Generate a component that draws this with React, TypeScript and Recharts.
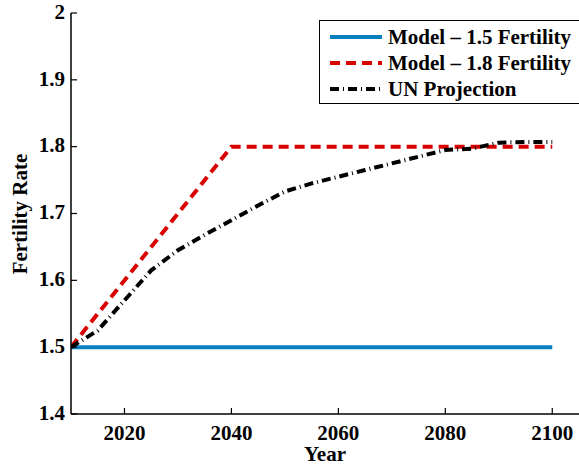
import { LineChart, Line, XAxis, YAxis, Legend } from 'recharts'

const modelYears = [2010, 2040, 2100]
const model15 = [1.5, 1.5, 1.5]
const model18 = [1.5, 1.8, 1.8]

const unYears = [2010, 2015, 2020, 2025, 2030, 2035, 2040, 2045, 2050, 2055, 2060, 2065, 2070, 2075, 2080, 2085, 2090, 2095, 2100]
const unValues = [1.5, 1.525, 1.57, 1.615, 1.645, 1.668, 1.69, 1.712, 1.733, 1.745, 1.755, 1.765, 1.775, 1.785, 1.795, 1.797, 1.806, 1.807, 1.807]

const xTicks = [2020, 2040, 2060, 2080, 2100]
const yTicks = [1.4, 1.5, 1.6, 1.7, 1.8, 1.9, 2]

const FONT = '"Liberation Serif", "Times New Roman", serif'
const BLUE = '#0a80bf'
const RED = '#d90000'

const model15Data = modelYears.map((year, i) => ({ year, value: model15[i] }))
const model18Data = modelYears.map((year, i) => ({ year, value: model18[i] }))
const unData = unYears.map((year, i) => ({ year, value: unValues[i] }))

const legendItems = [
  { label: 'Model \u2013 1.5 Fertility', color: BLUE, dash: undefined },
  { label: 'Model \u2013 1.8 Fertility', color: RED, dash: '10 6' },
  { label: 'UN Projection', color: '#000', dash: '9 4 1 4' },
]

function BottomTick({ x = 0, y = 0, payload }: any) {
  return (
    <g>
      <line x1={x} y1={y} x2={x} y2={y - 6} stroke="#000" strokeWidth={1.2} />
      <text x={x} y={y + 21} textAnchor="middle" dominantBaseline="middle"
        fontFamily={FONT} fontWeight="bold" fontSize={21} fill="#000">
        {payload.value}
      </text>
    </g>
  )
}

function TopTick({ x = 0, y = 0 }: any) {
  return <line x1={x} y1={y} x2={x} y2={y + 6} stroke="#000" strokeWidth={1.2} />
}

function LeftTick({ x = 0, y = 0, payload }: any) {
  return (
    <g>
      <line x1={x} y1={y} x2={x + 6} y2={y} stroke="#000" strokeWidth={1.2} />
      <text x={x - 6} y={y + 1} textAnchor="end" dominantBaseline="middle"
        fontFamily={FONT} fontWeight="bold" fontSize={21} fill="#000">
        {payload.value}
      </text>
    </g>
  )
}

function RightTick({ x = 0, y = 0 }: any) {
  return <line x1={x} y1={y} x2={x - 6} y2={y} stroke="#000" strokeWidth={1.2} />
}

function LegendBox() {
  return (
    <div style={{
      width: 280, height: 84, border: '1.5px solid #000', background: '#fff',
      fontFamily: FONT, fontWeight: 'bold', fontSize: 21, boxSizing: 'border-box',
    }}>
      {legendItems.map((it, i) => (
        <div key={i} style={{ display: 'flex', alignItems: 'center', height: 26, marginTop: i === 0 ? 3 : 0, whiteSpace: 'nowrap' }}>
          <svg width={68} height={10}>
            <line x1={10} y1={5} x2={62} y2={5} stroke={it.color} strokeWidth={4} strokeDasharray={it.dash} />
          </svg>
          <span>{it.label}</span>
        </div>
      ))}
    </div>
  )
}

export default function App() {
  return (
    <div style={{ position: 'absolute', left: 0, top: 0, width: 579, height: 465, overflow: 'hidden', background: '#fff' }}>
      <LineChart width={579} height={465} margin={{ top: 13, right: 0, bottom: 0, left: 0 }}>
        <XAxis
          dataKey="year" type="number" domain={[2010, 2105]} ticks={xTicks}
          allowDataOverflow height={51} tickSize={0} tickMargin={0} tickLine={false}
          axisLine={{ stroke: '#000', strokeWidth: 1.5 }} tick={<BottomTick />}
          label={{
            content: () => (
              <text x={325} y={456} textAnchor="middle" dominantBaseline="middle"
                fontFamily={FONT} fontWeight="bold" fontSize={21} fill="#000">Year</text>
            ),
          }}
        />
        <XAxis
          xAxisId="top" orientation="top" dataKey="year" type="number" domain={[2010, 2105]}
          ticks={xTicks} height={0} tickSize={0} tickMargin={0} tickLine={false}
          axisLine={{ stroke: '#000', strokeWidth: 1.5 }} tick={<TopTick />}
        />
        <YAxis
          type="number" domain={[1.4, 2]} ticks={yTicks} width={71}
          tickSize={0} tickMargin={0} tickLine={false}
          axisLine={{ stroke: '#000', strokeWidth: 1.5 }} tick={<LeftTick />}
          label={{
            content: () => (
              <text x={22} y={214} transform="rotate(-90 22 214)" textAnchor="middle" dominantBaseline="middle"
                fontFamily={FONT} fontWeight="bold" fontSize={21} fill="#000">Fertility Rate</text>
            ),
          }}
        />
        <YAxis
          yAxisId="right" orientation="right" type="number" domain={[1.4, 2]} ticks={yTicks} width={0}
          tickSize={0} tickMargin={0} tickLine={false}
          axisLine={{ stroke: '#000', strokeWidth: 1.5 }} tick={<RightTick />}
        />
        <Legend
          layout="horizontal" verticalAlign="middle" align="center"
          content={() => <LegendBox />}
          wrapperStyle={{ position: 'absolute', left: 319, top: 20, width: 280, height: 84 }}
        />
        <Line data={model15Data} dataKey="value" name="Model – 1.5 Fertility" stroke={BLUE} strokeWidth={4}
          dot={false} activeDot={false} isAnimationActive={false} />
        <Line data={model18Data} dataKey="value" name="Model – 1.8 Fertility" stroke={RED} strokeWidth={4}
          strokeDasharray="10 6" dot={false} activeDot={false} isAnimationActive={false} />
        <Line data={unData} dataKey="value" name="UN Projection" stroke="#000" strokeWidth={4}
          strokeDasharray="9 4 1 4" dot={false} activeDot={false} isAnimationActive={false} />
      </LineChart>
    </div>
  )
}
